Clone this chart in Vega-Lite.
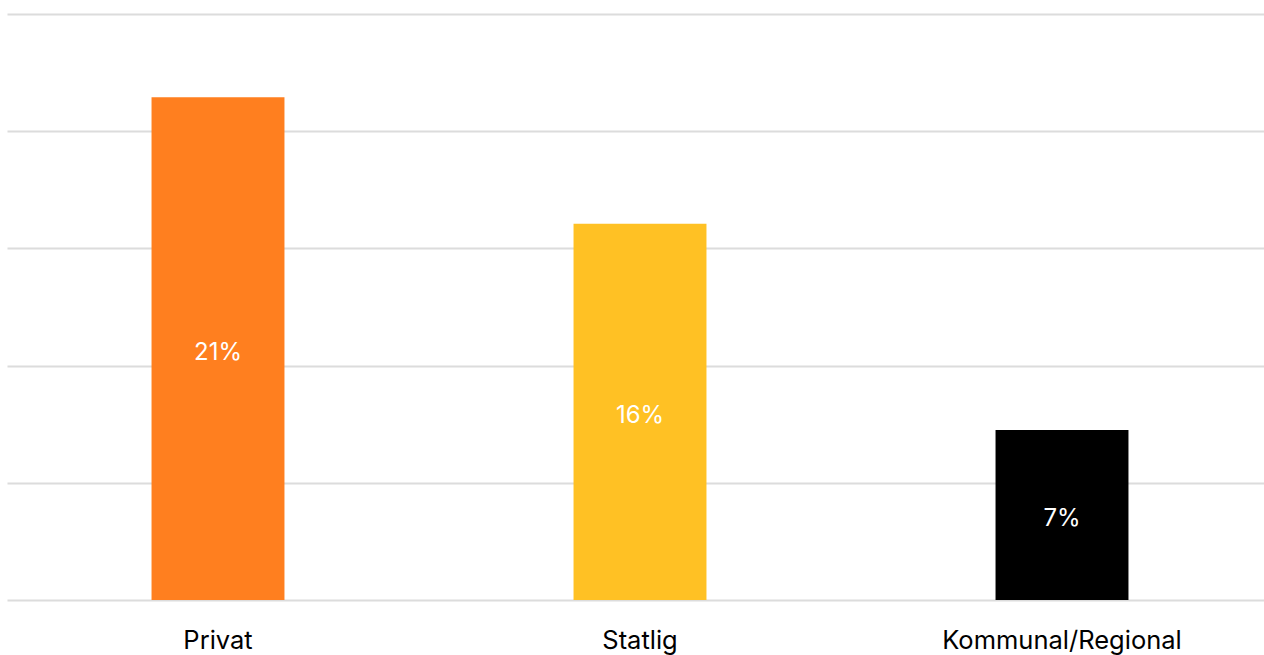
{
  "$schema": "https://vega.github.io/schema/vega-lite/v6.json",
  "autosize": "none",
  "width": 1266,
  "height": 586,
  "padding": {"left": 7, "top": 14, "right": 0, "bottom": 55},
  "background": "white",
  "config": {"view": {"stroke": null}, "font": "Inter"},
  "data": {"values": [
    {"sektor": "Privat", "andel": 21.45, "label": "21%", "farge": "#FF7F1F"},
    {"sektor": "Statlig", "andel": 16.05, "label": "16%", "farge": "#FFC124"},
    {"sektor": "Kommunal/Regional", "andel": 7.25, "label": "7%", "farge": "#000000"}
  ]},
  "encoding": {
    "x": {"field": "sektor", "type": "nominal", "sort": null,
      "scale": {"paddingInner": 0.685, "paddingOuter": 0.3425},
      "axis": {"title": null, "labelAngle": 0, "ticks": false, "domain": false, "labelLimit": 0,
        "labelFont": "Inter", "labelFontSize": 25.5, "labelColor": "#000", "labelPadding": 28}}
  },
  "layer": [
    {"mark": {"type": "bar"},
      "encoding": {
        "y": {"field": "andel", "type": "quantitative",
          "scale": {"domain": [0, 25], "nice": false},
          "axis": {"title": null, "labels": false, "ticks": false, "domain": false,
            "values": [0, 5, 10, 15, 20, 25], "gridColor": "#dcdcdc", "gridWidth": 2}},
        "color": {"field": "farge", "type": "nominal", "scale": null}}},
    {"transform": [{"calculate": "datum.andel / 2", "as": "midt"}],
      "mark": {"type": "text", "color": "white", "fontSize": 24, "font": "Inter", "baseline": "middle", "dy": 4},
      "encoding": {
        "y": {"field": "midt", "type": "quantitative",
          "scale": {"domain": [0, 25], "nice": false},
          "axis": {"title": null, "labels": false, "ticks": false, "domain": false,
            "values": [0, 5, 10, 15, 20, 25], "gridColor": "#dcdcdc", "gridWidth": 2}},
        "text": {"field": "label"}}}
  ]
}
